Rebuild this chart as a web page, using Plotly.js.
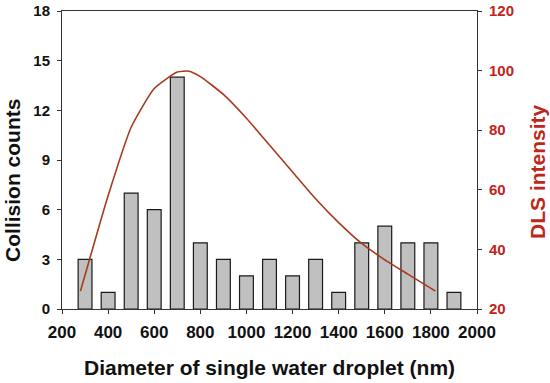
<!DOCTYPE html>
<html>
<head>
<meta charset="utf-8">
<script src="https://cdn.plot.ly/plotly-3.0.1.min.js"></script>
<style>html,body{margin:0;padding:0;background:#fff;}#chart{width:550px;height:383px;}</style>
</head>
<body>
<div id="chart"></div>
<script>
// Collision counts histogram
const diameters = [300, 400, 500, 600, 700, 800, 900, 1000, 1100, 1200, 1300, 1400, 1500, 1600, 1700, 1800, 1900];
const counts = [3, 1, 7, 6, 14, 4, 3, 2, 3, 2, 3, 1, 4, 5, 4, 4, 1];
// DLS intensity curve
const dlsDiameter = [280, 400, 500, 600, 700, 750, 800, 900, 1000, 1100, 1200, 1300, 1400, 1500, 1600, 1700, 1820];
const dlsIntensity = [26, 58, 81, 94, 99.5, 99.8, 98, 92, 84, 75, 66, 57, 49, 42, 36.5, 31.7, 26];
// Tick labels
const xTicks = [200, 400, 600, 800, 1000, 1200, 1400, 1600, 1800, 2000];
const countTicks = [0, 3, 6, 9, 12, 15, 18];
const dlsTicks = [20, 40, 60, 80, 100, 120];

const font = "Liberation Sans, Arial, sans-serif";
const red = "#c0251a";
const axisCol = "#333333";
const bold = v => "<b>" + v + "</b>";

const traces = [
  {
    type: "bar", x: diameters, y: counts, width: 60,
    marker: {color: "#c0c0c0", line: {color: "#1a1a1a", width: 1.2}},
    yaxis: "y"
  },
  {
    type: "scatter", mode: "lines", x: dlsDiameter, y: dlsIntensity,
    line: {color: "#a83a1c", width: 1.6, shape: "spline", smoothing: 0.5},
    yaxis: "y2"
  }
];

const layout = {
  width: 550, height: 383,
  margin: {l: 62, r: 73, t: 11, b: 74},
  paper_bgcolor: "#fff", plot_bgcolor: "#fff",
  showlegend: false,
  font: {family: font, color: "#111"},
  xaxis: {
    range: [200, 2000], tickvals: xTicks, ticktext: xTicks.map(bold),
    showline: true, linecolor: axisCol, linewidth: 1, mirror: true,
    ticks: "outside", ticklen: 4, tickcolor: axisCol, ticklabelstandoff: 4,
    showgrid: false, zeroline: false,
    tickfont: {family: font, size: 17, color: "#111"}
  },
  yaxis: {
    range: [0, 18], tickvals: countTicks, ticktext: countTicks.map(bold),
    showline: true, linecolor: axisCol, linewidth: 1,
    ticks: "outside", ticklen: 4, tickcolor: axisCol, ticklabelstandoff: 4,
    showgrid: false, zeroline: false,
    tickfont: {family: font, size: 15, color: "#111"}
  },
  yaxis2: {
    overlaying: "y", side: "right",
    range: [20, 120], tickvals: dlsTicks, ticktext: dlsTicks.map(bold),
    showline: true, linecolor: axisCol, linewidth: 1,
    ticks: "outside", ticklen: 4, tickcolor: axisCol, ticklabelstandoff: 4,
    showgrid: false, zeroline: false,
    tickfont: {family: font, size: 15, color: red}
  },
  annotations: [
    {text: "<b>Diameter of single water droplet (nm)</b>", xref: "paper", yref: "paper",
     x: 0.5, y: -0.195, xanchor: "center", yanchor: "middle", showarrow: false,
     font: {family: font, size: 21, color: "#111"}},
    {text: "<b>Collision counts</b>", xref: "paper", yref: "paper",
     x: -0.118, y: 0.43, xanchor: "center", yanchor: "middle", textangle: -90, showarrow: false,
     font: {family: font, size: 21, color: "#111"}},
    {text: "<b>DLS intensity</b>", xref: "paper", yref: "paper",
     x: 1.147, y: 0.46, xanchor: "center", yanchor: "middle", textangle: -90, showarrow: false,
     font: {family: font, size: 21, color: red}}
  ]
};

Plotly.newPlot("chart", traces, layout, {displayModeBar: false, staticPlot: true});
</script>
</body>
</html>
